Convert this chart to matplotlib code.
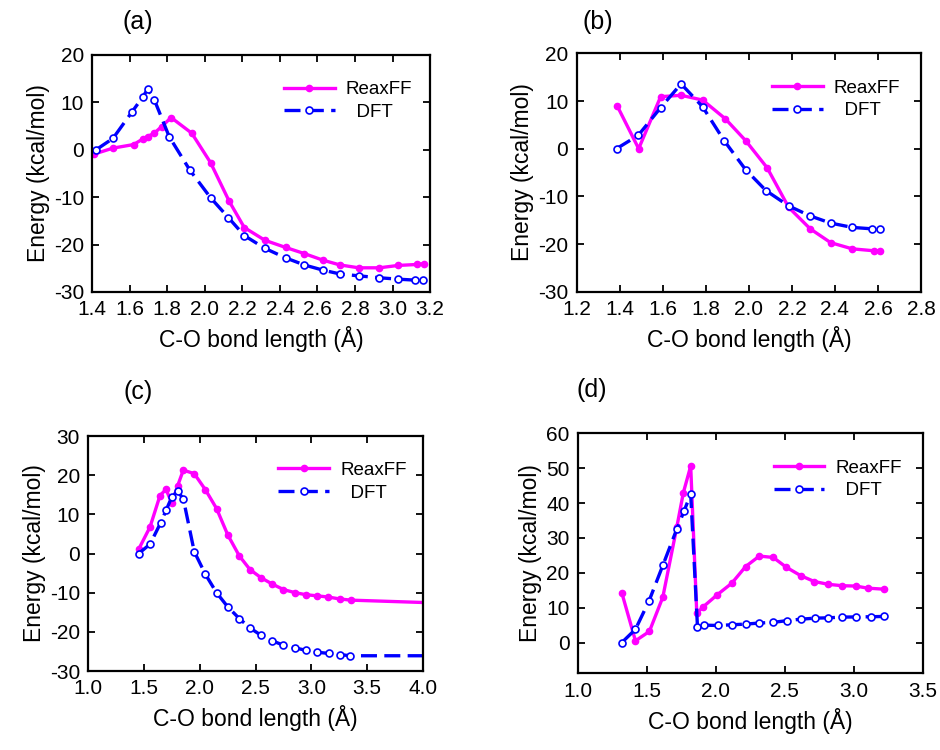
import matplotlib
matplotlib.use("Agg")
import matplotlib.pyplot as plt
from matplotlib.ticker import FormatStrFormatter

plt.rcParams['font.family'] = ['Liberation Sans', 'DejaVu Sans']
plt.rcParams['axes.unicode_minus'] = False

# (a)
a_dft_x = [1.42, 1.51, 1.61, 1.67, 1.695, 1.73, 1.81, 1.92, 2.03, 2.125, 2.21, 2.32,
           2.43, 2.53, 2.63, 2.72, 2.82, 2.93, 3.03, 3.12, 3.16]
a_dft_y = [0, 2.4, 7.9, 11.2, 12.8, 10.6, 2.75, -4.3, -10.1, -14.3, -18.1, -20.8,
           -22.8, -24.3, -25.4, -26.2, -26.6, -27.0, -27.3, -27.5, -27.5]
a_rx_x = [1.41, 1.51, 1.62, 1.67, 1.695, 1.73, 1.77, 1.82, 1.93, 2.03, 2.13, 2.21,
          2.32, 2.43, 2.53, 2.63, 2.72, 2.82, 2.93, 3.03, 3.13, 3.17]
a_rx_y = [-0.9, 0.35, 1.1, 2.3, 2.8, 3.5, 4.9, 6.8, 3.5, -2.7, -10.9, -16.4,
          -19.1, -20.6, -21.9, -23.3, -24.3, -24.9, -24.9, -24.4, -24.2, -24.0]

# (b)
b_dft_x = [1.385, 1.486, 1.59, 1.685, 1.785, 1.885, 1.985, 2.08, 2.185, 2.285,
           2.38, 2.48, 2.57, 2.61]
b_dft_y = [0, 2.8, 8.6, 13.6, 8.8, 1.7, -4.4, -8.8, -12.0, -14.1,
           -15.6, -16.5, -16.8, -16.8]
b_rx_x = [1.388, 1.488, 1.59, 1.685, 1.785, 1.89, 1.985, 2.085, 2.185, 2.285,
          2.38, 2.48, 2.58, 2.61]
b_rx_y = [9.0, 0, 10.9, 11.2, 10.2, 6.3, 1.7, -4.0, -12.3, -16.8,
          -19.7, -21.0, -21.4, -21.4]

# (c)
c_rx_x = [1.452, 1.554, 1.643, 1.697, 1.75, 1.80, 1.852, 1.95, 2.05, 2.15, 2.25,
          2.354, 2.45, 2.55, 2.65, 2.75, 2.855, 2.95, 3.05, 3.15, 3.255, 3.354, 4.0]
c_rx_y = [1.1, 6.8, 14.8, 16.4, 12.8, 17.2, 21.3, 20.4, 16.3, 11.5, 4.8,
          -0.6, -4.1, -6.2, -7.8, -9.2, -10.0, -10.5, -10.8, -11.1, -11.6, -11.9, -12.5]
c_dft_x = [1.452, 1.554, 1.65, 1.70, 1.75, 1.80, 1.852, 1.95, 2.05, 2.15, 2.25,
           2.354, 2.45, 2.55, 2.65, 2.75, 2.855, 2.95, 3.05, 3.155, 3.255, 3.35, 4.0]
c_dft_y = [0, 2.4, 7.9, 11.2, 14.5, 15.9, 14.0, 0.5, -5.3, -10.0, -13.6,
           -16.6, -19.0, -20.9, -22.3, -23.4, -24.1, -24.7, -25.2, -25.5, -25.8, -26.1, -26.1]

# (d)
d_rx_x = [1.319, 1.418, 1.519, 1.616, 1.717, 1.765, 1.818, 1.862, 1.91, 2.01, 2.115,
          2.216, 2.315, 2.416, 2.51, 2.614, 2.713, 2.814, 2.915, 3.014, 3.10, 3.22]
d_rx_y = [14.3, 0.5, 3.2, 13.0, 33.0, 43.0, 50.6, 8.4, 10.3, 13.7, 17.0,
          21.8, 24.8, 24.4, 21.6, 19.2, 17.5, 16.7, 16.3, 16.2, 15.6, 15.3]
d_dft_x = [1.319, 1.418, 1.517, 1.616, 1.717, 1.77, 1.818, 1.867, 1.915, 2.014, 2.115,
           2.216, 2.315, 2.416, 2.517, 2.614, 2.718, 2.814, 2.915, 3.014, 3.12, 3.22]
d_dft_y = [0, 3.8, 12.0, 22.1, 32.5, 37.7, 42.6, 4.6, 5.0, 4.9, 5.1,
           5.3, 5.6, 5.8, 6.3, 6.7, 7.0, 7.1, 7.3, 7.35, 7.4, 7.5]

PINK = '#FF00FF'
BLUE = '#0000FF'

fig = plt.figure(figsize=(9.4, 7.5), dpi=100)


def panel(rect, rx, ry, dx, dy, xlim, xticks, ylim, yticks, label, label_xy,
          leg_anchor, cut_last=False):
    ax = fig.add_axes(rect)
    mk = slice(0, -1) if cut_last else None
    ax.plot(rx, ry, color=PINK, lw=2.4, marker='o', ms=4.5, mfc=PINK, mec=PINK,
            markevery=mk, label='ReaxFF')
    ax.plot(dx, dy, color=BLUE, lw=2.4, ls=(0, (4.8, 2.2)), marker='o', ms=5,
            mfc='white', mec=BLUE, mew=1.2, markevery=mk, label='  DFT')
    ax.set_xlim(*xlim)
    ax.set_ylim(*ylim)
    ax.set_xticks(xticks)
    ax.set_yticks(yticks)
    ax.xaxis.set_major_formatter(FormatStrFormatter('%.1f'))
    ax.tick_params(direction='in', top=True, right=True, length=5, width=1.3,
                   labelsize=15, pad=6)
    for s in ax.spines.values():
        s.set_linewidth(1.6)
    ax.set_xlabel('C-O bond length (Å)', fontsize=16.5, labelpad=5)
    ax.set_ylabel('Energy (kcal/mol)', fontsize=16.5, labelpad=3)
    ax.legend(loc='upper left', bbox_to_anchor=leg_anchor, frameon=False, fontsize=13.5,
              borderpad=0, handlelength=2.7, handletextpad=0.6, labelspacing=0.3)
    fig.text(label_xy[0], label_xy[1], label, fontsize=18, ha='center', va='center')
    return ax


panel([0.0982, 0.6107, 0.3593, 0.316], a_rx_x, a_rx_y, a_dft_x, a_dft_y,
      (1.4, 3.2), [1.4 + 0.2 * i for i in range(10)], (-30, 20), range(-30, 21, 10),
      '(a)', (138 / 940, 1 - 22 / 750), (0.54, 0.93))
panel([0.6135, 0.611, 0.3663, 0.3179], b_rx_x, b_rx_y, b_dft_x, b_dft_y,
      (1.2, 2.8), [1.2 + 0.2 * i for i in range(9)], (-30, 20), range(-30, 21, 10),
      '(b)', (598 / 940, 1 - 22 / 750), (0.54, 0.93))
panel([0.0939, 0.1053, 0.356, 0.3133], c_rx_x, c_rx_y, c_dft_x, c_dft_y,
      (1.0, 4.0), [1.0 + 0.5 * i for i in range(7)], (-30, 30), range(-30, 31, 10),
      '(c)', (138 / 940, 1 - 392 / 750), (0.54, 0.93), cut_last=True)
panel([0.6146, 0.1023, 0.3673, 0.32], d_rx_x, d_rx_y, d_dft_x, d_dft_y,
      (1.0, 3.5), [1.0 + 0.5 * i for i in range(6)], (-8.8, 60), range(0, 61, 10),
      '(d)', (592 / 940, 1 - 390 / 750), (0.54, 0.93))

fig.savefig('out.png', dpi=100)
